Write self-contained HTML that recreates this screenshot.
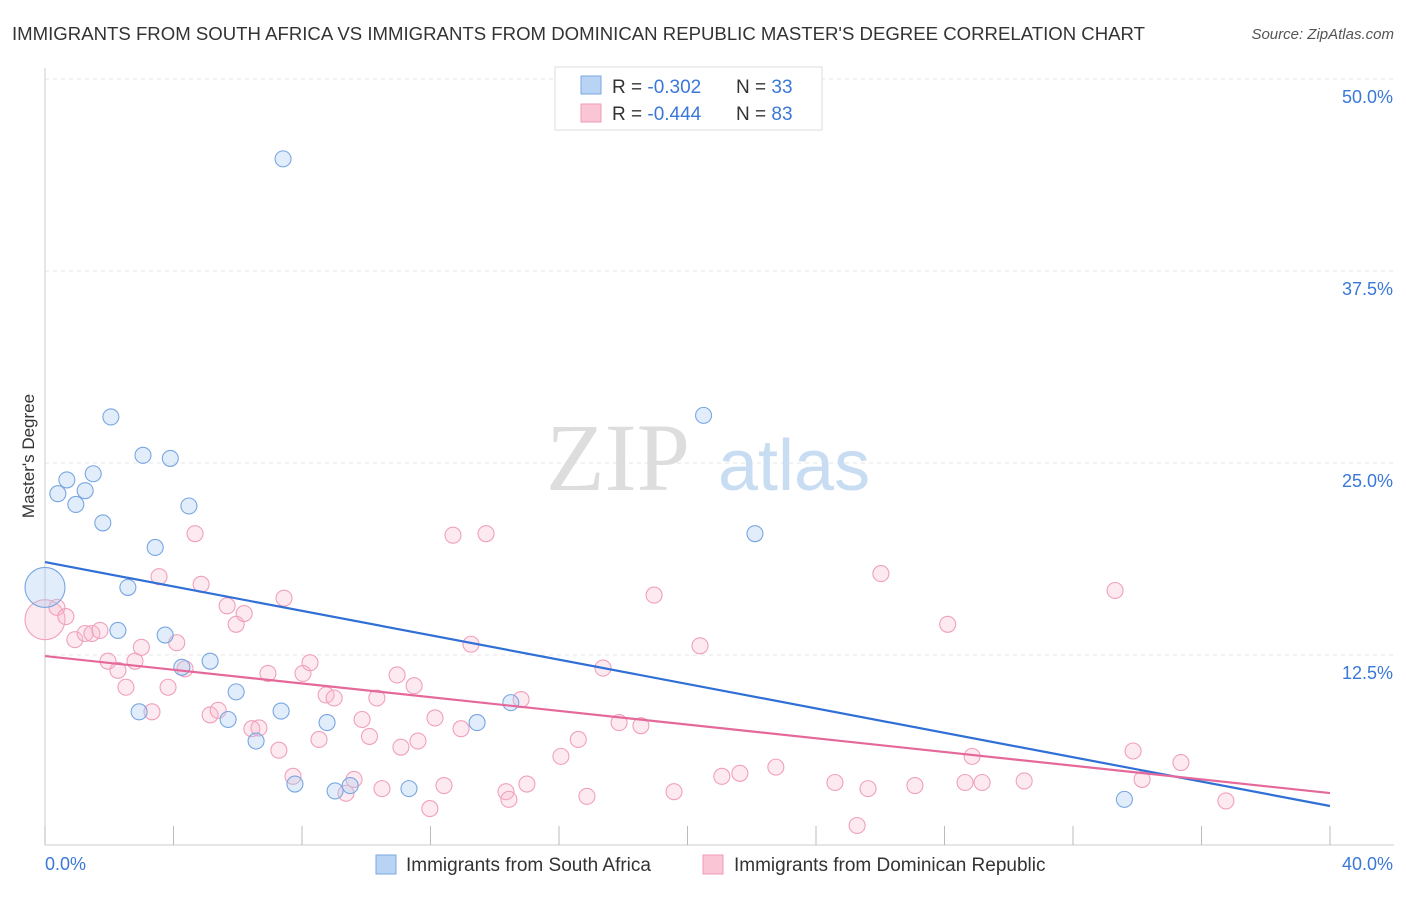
<!DOCTYPE html>
<html><head><meta charset="utf-8"><style>
body{margin:0;background:#fff;font-family:"Liberation Sans",sans-serif;}
svg text{font-family:"Liberation Sans",sans-serif;}
</style></head><body>
<svg id="chart" width="1406" height="892" xmlns="http://www.w3.org/2000/svg">
<text x="12" y="40" font-size="18" fill="#333" textLength="1133" lengthAdjust="spacingAndGlyphs">IMMIGRANTS FROM SOUTH AFRICA VS IMMIGRANTS FROM DOMINICAN REPUBLIC MASTER'S DEGREE CORRELATION CHART</text>
<text x="1394" y="39" font-size="15" fill="#555" font-style="italic" text-anchor="end">Source: ZipAtlas.com</text>
<g id="grid"></g>
<text x="690" y="490" font-size="96" fill="#ddd" text-anchor="end" style="font-family:'Liberation Serif',serif">ZIP</text>
<text x="718" y="490" font-size="72" fill="#c8dcf2">atlas</text>
<g id="marks"></g>
<text transform="translate(34,456) rotate(-90)" font-size="17" fill="#333" text-anchor="middle">Master's Degree</text>
<g>
<rect x="555" y="67" width="267" height="63" fill="#fff" stroke="#ddd"/>
<rect x="581" y="76" width="20" height="18" fill="#b9d3f5" stroke="#7aa8e4"/>
<rect x="581" y="104" width="20" height="18" fill="#fac6d6" stroke="#f09ab6"/>
<text x="612" y="93" font-size="19" fill="#333">R = <tspan fill="#3a78d8">-0.302</tspan></text>
<text x="736" y="93" font-size="19" fill="#333">N = <tspan fill="#3a78d8">33</tspan></text>
<text x="612" y="120" font-size="19" fill="#333">R = <tspan fill="#3a78d8">-0.444</tspan></text>
<text x="736" y="120" font-size="19" fill="#333">N = <tspan fill="#3a78d8">83</tspan></text>
</g>
<g>
<rect x="376" y="855" width="20" height="19" fill="#b9d3f5" stroke="#7aa8e4"/>
<text x="406" y="871" font-size="19" fill="#333">Immigrants from South Africa</text>
<rect x="703" y="855" width="20" height="19" fill="#fac6d6" stroke="#f09ab6"/>
<text x="734" y="871" font-size="19" fill="#333">Immigrants from Dominican Republic</text>
</g>
</svg>
<script>
const yTicks=[12.5,25,37.5,50];
const yTickLabels=["12.5%","25.0%","37.5%","50.0%"];
const xTickLabels=["0.0%","40.0%"];
const blueX=[7.41,2.05,20.5,3.05,3.9,1.5,0.68,0.4,1.25,0.96,4.48,1.8,22.1,3.43,0,2.58,2.27,3.74,5.14,4.26,5.95,14.5,2.93,7.35,5.7,8.78,13.45,6.57,7.78,9.03,9.5,11.33,33.6];
const blueY=[44.8,28.0,28.1,25.5,25.3,24.3,23.9,23.0,23.2,22.3,22.2,21.1,20.4,19.5,16.9,16.9,14.1,13.8,12.1,11.7,10.1,9.4,8.8,8.85,8.3,8.1,8.1,6.9,4.1,3.65,4.0,3.8,3.1];
const blueBig=[14];
const pinkX=[0,0.37,0.65,0.93,1.25,1.46,1.71,1.96,2.27,2.52,2.8,3.0,3.33,3.55,3.83,4.1,4.36,4.67,4.86,5.14,5.39,5.67,5.95,6.2,6.44,6.66,6.94,7.28,7.44,7.72,8.03,8.25,8.53,8.75,9.0,9.37,9.62,9.87,10.1,10.33,10.49,10.96,11.08,11.49,11.61,11.98,12.14,12.42,12.7,12.95,13.26,13.73,14.35,14.44,14.82,15.0,16.06,16.6,16.87,17.37,17.87,18.55,18.96,19.58,20.39,21.07,21.63,22.75,24.59,25.28,25.62,26.02,27.08,28.1,28.64,28.86,29.17,30.48,33.31,33.87,34.15,35.36,36.76];
const pinkY=[14.8,15.6,15.0,13.5,13.9,13.9,14.1,12.1,11.5,10.4,12.1,13.0,8.8,17.6,10.4,13.3,11.6,20.4,17.1,8.6,8.9,15.7,14.5,15.2,7.7,7.75,11.3,6.3,16.2,4.6,11.3,12.0,7.0,9.9,9.7,3.5,4.4,8.3,7.2,9.7,3.8,11.2,6.5,10.5,6.9,2.5,8.4,4.0,20.3,7.7,13.2,20.4,3.6,3.1,9.6,4.1,5.9,7.0,3.3,11.65,8.1,7.9,16.4,3.6,13.1,4.6,4.8,5.2,4.2,1.4,3.8,17.8,4.0,14.5,4.2,5.9,4.2,4.3,16.7,6.25,4.4,5.5,3.0];
const pinkBig=[0];
const blueTrend=[18.55,-0.397];
const pinkTrend=[12.43,-0.223];
const X0=45,X1=1330,XMAX=40,Y0=847,YMAX=50,YTOP=79;
const sx=v=>X0+(X1-X0)*v/XMAX;
const sy=v=>Y0-(Y0-YTOP)*v/YMAX;
const NS="http://www.w3.org/2000/svg";
function mk(tag,attrs,parent){const e=document.createElementNS(NS,tag);for(const k in attrs)e.setAttribute(k,attrs[k]);parent.appendChild(e);return e;}
const grid=document.getElementById('grid'),marks=document.getElementById('marks'),svg=document.getElementById('chart');
yTicks.forEach((t,i)=>{
 const l=mk('line',{x1:X0,x2:1394,y1:sy(t),y2:sy(t),stroke:'#e4e4e4','stroke-dasharray':'4,4'},grid);
 
 
 const tx=mk('text',{x:1393,y:sy(t)+24,'font-size':18,fill:'#3a78d8','text-anchor':'end'},svg);
 tx.textContent=yTickLabels[i];
 
 
});
const ax=mk('line',{x1:X0,x2:1394,y1:845,y2:845,stroke:'#ccc'},grid);


const ay=mk('line',{x1:X0,x2:X0,y1:68,y2:845,stroke:'#ccc'},grid);


for(let i=0;i<=10;i++){
 const t=mk('line',{x1:sx(i*4),x2:sx(i*4),y1:826,y2:845,stroke:'#bbb'},grid);
 
 
}
[[0,'start',45],[1,'end',1393]].forEach(([i,a,x])=>{
 const t=mk('text',{x:x,y:870,'font-size':18,fill:'#3a78d8','text-anchor':a},svg);
 t.textContent=xTickLabels[i];
 
 
});
function pts(X,Y,big,fill,stroke,name){
 X.forEach((x,i)=>{
  const c=mk('circle',{cx:sx(x),cy:sy(Y[i]),r:big.includes(i)?20:8,fill:fill,stroke:stroke,'stroke-width':1.1},marks);
  
  
 });
}
pts(pinkX,pinkY,pinkBig,'rgba(248,185,205,0.3)','#f0a0bb','point-dominican-republic');
pts(blueX,blueY,blueBig,'rgba(170,202,242,0.35)','#78a6e2','point-south-africa');
function trend(tr,col,name){
 const l=mk('line',{x1:sx(0),y1:sy(tr[0]),x2:sx(XMAX),y2:sy(tr[0]+tr[1]*XMAX),stroke:col,'stroke-width':2.2},marks);
 
 
}
trend(blueTrend,'#2f6fd6','trend-line-south-africa');
trend(pinkTrend,'#e5689a','trend-line-dominican-republic');
</script>
</body></html>
